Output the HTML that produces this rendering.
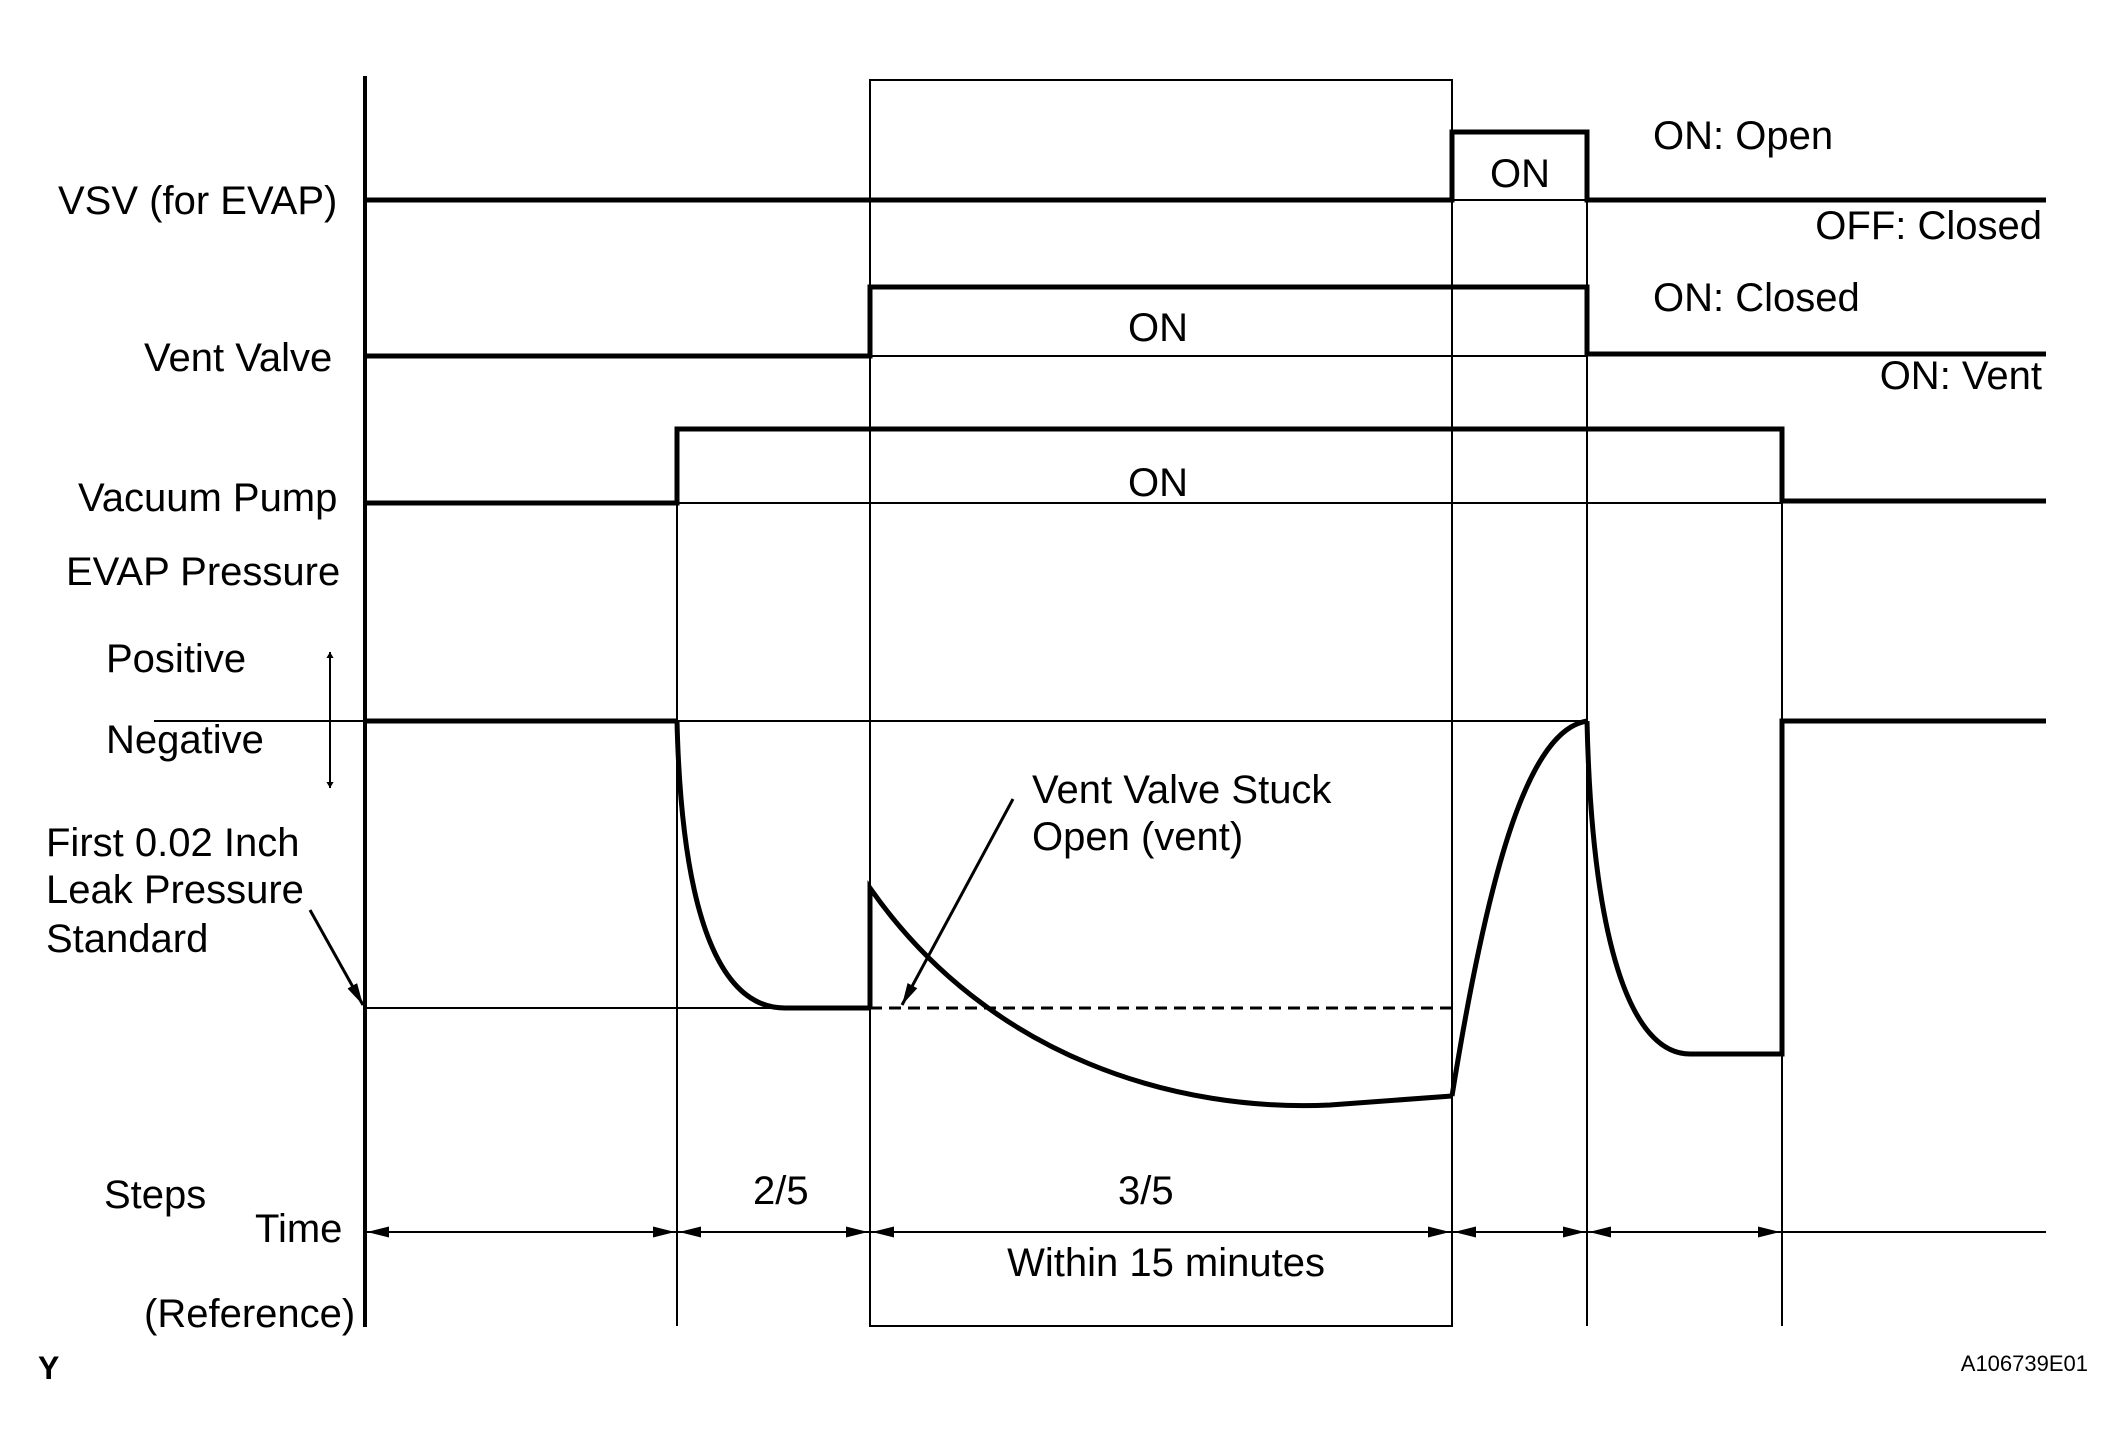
<!DOCTYPE html>
<html><head><style>body{margin:0;background:#fff}svg{display:block}</style></head><body>
<svg width="2124" height="1456" viewBox="0 0 2124 1456" xmlns="http://www.w3.org/2000/svg" font-family="Liberation Sans, sans-serif" font-size="40" fill="#000">
<defs>
<marker id="ah" viewBox="0 0 10 20" refX="10" refY="10" markerWidth="14" markerHeight="12" markerUnits="userSpaceOnUse" orient="auto"><path d="M0,4 L10,10 L0,16z" fill="#000"/></marker>
<marker id="ab" viewBox="0 0 20 10" refX="20" refY="5" markerWidth="22" markerHeight="11" markerUnits="userSpaceOnUse" orient="auto"><path d="M0,0 L20,5 L0,10z" fill="#000"/></marker>
</defs>
<g stroke="#000" fill="none">
<g stroke-width="2">
<rect x="870" y="80" width="582" height="1246"/>
<line x1="677" y1="503" x2="677" y2="1326"/>
<line x1="1587" y1="200" x2="1587" y2="1326"/>
<line x1="1782" y1="503" x2="1782" y2="1326"/>
<line x1="1452" y1="200" x2="1587" y2="200"/>
<line x1="870" y1="356" x2="1587" y2="356"/>
<line x1="677" y1="503" x2="1782" y2="503"/>
<line x1="154" y1="721" x2="1587" y2="721"/>
<line x1="365" y1="1008" x2="870" y2="1008"/>
<line x1="365" y1="1232" x2="2046" y2="1232"/>
</g>
<line x1="365" y1="76" x2="365" y2="1327" stroke-width="4"/>
<g stroke-width="5" stroke-linejoin="miter">
<polyline points="365,200 1452,200 1452,132 1587,132 1587,200 2046,200"/>
<polyline points="365,356 870,356 870,287 1587,287 1587,354 2046,354"/>
<polyline points="365,503 677,503 677,429 1782,429 1782,501 2046,501"/>
<line x1="365" y1="721" x2="677" y2="721"/>
<path d="M677,721 C682,930 725,1008 785,1008 L870,1008"/>
<path d="M870,1008 L870,888 C990,1060 1180,1112 1330,1105 L1452,1096"/>
<path d="M1452,1096 C1490,860 1530,730 1587,721"/>
<path d="M1587,721 C1592,940 1630,1054 1690,1054 L1782,1054 L1782,721 L2046,721"/>
</g>
<line x1="870" y1="1008" x2="1452" y2="1008" stroke-width="3" stroke-dasharray="12,7"/>
<line x1="310" y1="910" x2="363" y2="1005" stroke-width="3" marker-end="url(#ab)"/>
<line x1="1013" y1="799" x2="902" y2="1005" stroke-width="3" marker-end="url(#ab)"/>
<line x1="330" y1="700" x2="330" y2="652" stroke-width="2" marker-end="url(#ah)"/>
<line x1="330" y1="740" x2="330" y2="788" stroke-width="2" marker-end="url(#ah)"/>
<line x1="330" y1="690" x2="330" y2="750" stroke-width="2"/>
<g stroke-width="2">
<line x1="520" y1="1232" x2="367" y2="1232" marker-end="url(#ab)"/>
<line x1="520" y1="1232" x2="675" y2="1232" marker-end="url(#ab)"/>
<line x1="770" y1="1232" x2="679" y2="1232" marker-end="url(#ab)"/>
<line x1="770" y1="1232" x2="868" y2="1232" marker-end="url(#ab)"/>
<line x1="1160" y1="1232" x2="872" y2="1232" marker-end="url(#ab)"/>
<line x1="1160" y1="1232" x2="1450" y2="1232" marker-end="url(#ab)"/>
<line x1="1520" y1="1232" x2="1454" y2="1232" marker-end="url(#ab)"/>
<line x1="1520" y1="1232" x2="1585" y2="1232" marker-end="url(#ab)"/>
<line x1="1680" y1="1232" x2="1589" y2="1232" marker-end="url(#ab)"/>
<line x1="1680" y1="1232" x2="1780" y2="1232" marker-end="url(#ab)"/>
</g>
</g>
<g stroke="none">
<text x="58" y="214">VSV (for EVAP)</text>
<text x="144" y="371">Vent Valve</text>
<text x="78" y="511">Vacuum Pump</text>
<text x="66" y="585">EVAP Pressure</text>
<text x="106" y="672">Positive</text>
<text x="106" y="753">Negative</text>
<text x="46" y="856">First 0.02 Inch</text>
<text x="46" y="903">Leak Pressure</text>
<text x="46" y="952">Standard</text>
<text x="104" y="1208">Steps</text>
<text x="255" y="1242">Time</text>
<text x="144" y="1327">(Reference)</text>
<text x="38" y="1379" font-size="32" font-weight="bold">Y</text>
<text x="753" y="1204">2/5</text>
<text x="1118" y="1204">3/5</text>
<text x="1325" y="1276" text-anchor="end">Within 15 minutes</text>
<text x="1032" y="803">Vent Valve Stuck</text>
<text x="1032" y="850">Open (vent)</text>
<text x="1490" y="187">ON</text>
<text x="1128" y="341">ON</text>
<text x="1128" y="496">ON</text>
<text x="1653" y="149">ON: Open</text>
<text x="2042" y="239" text-anchor="end">OFF: Closed</text>
<text x="1653" y="311">ON: Closed</text>
<text x="2042" y="389" text-anchor="end">ON: Vent</text>
<text x="2088" y="1371" text-anchor="end" font-size="22">A106739E01</text>
</g>
</svg>
</body></html>
